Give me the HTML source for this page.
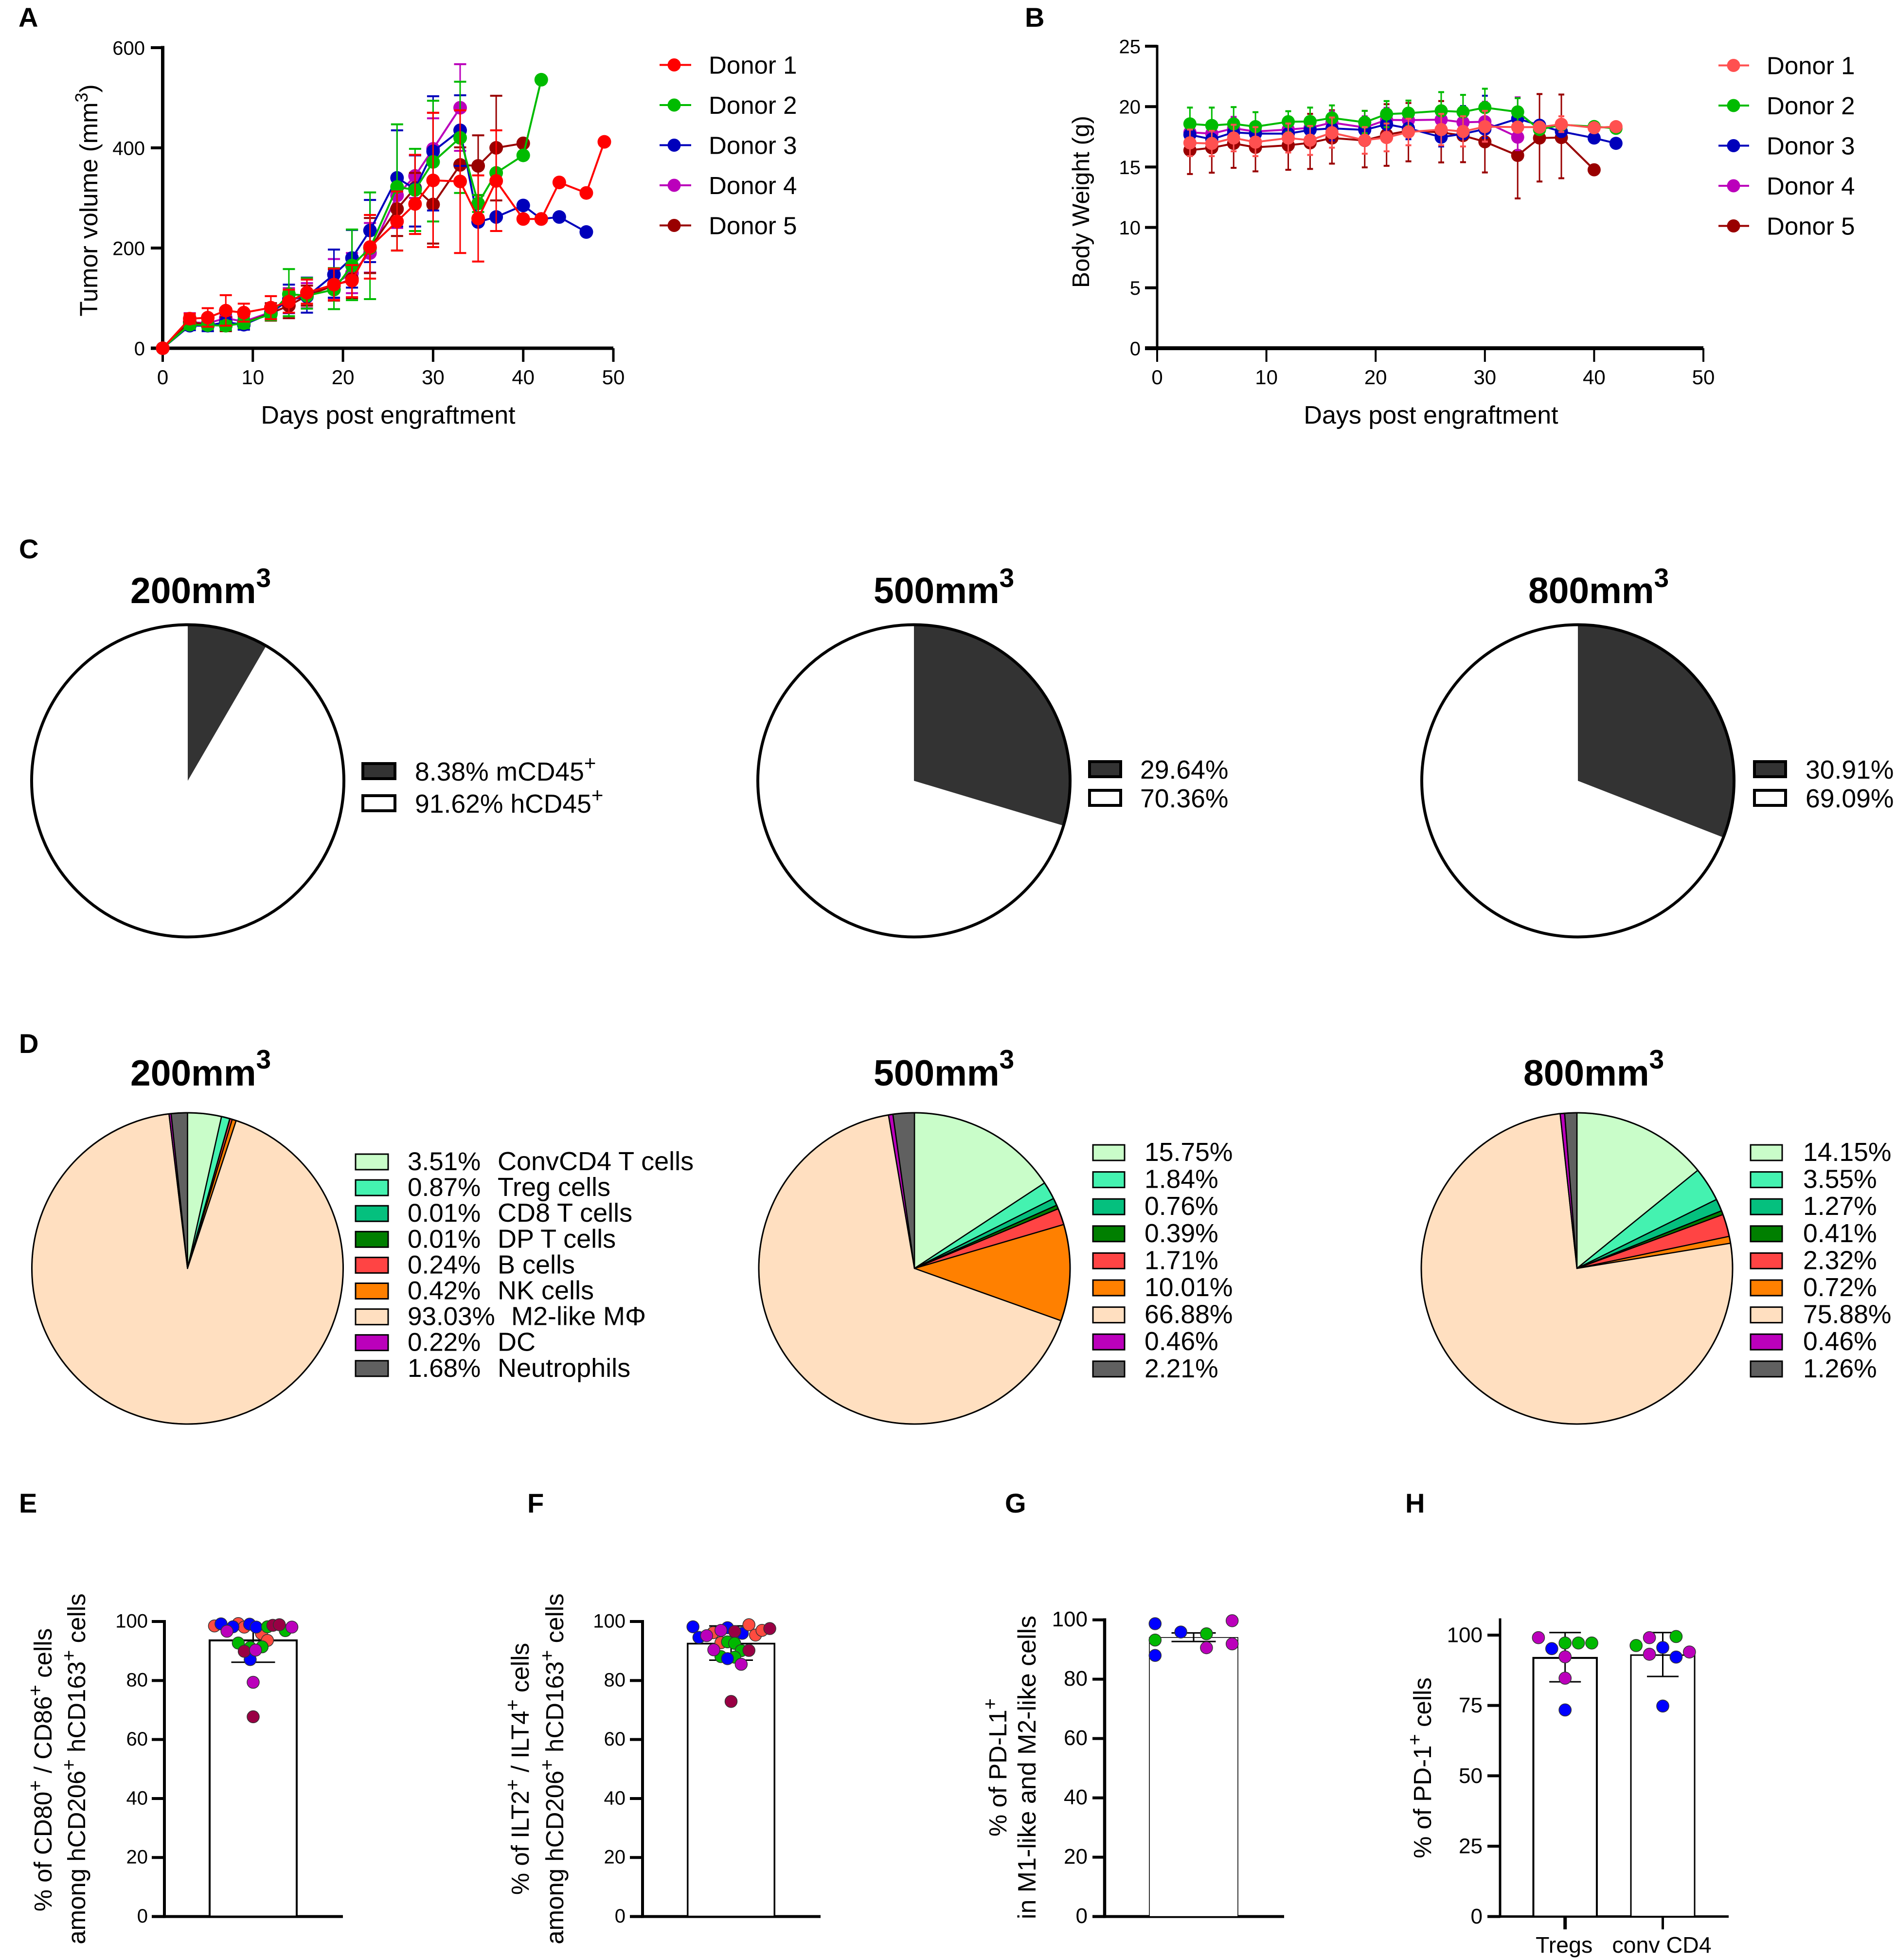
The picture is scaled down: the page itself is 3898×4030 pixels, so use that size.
<!DOCTYPE html>
<html lang="en">
<head>
<meta charset="utf-8">
<title>Tumor engraftment figure</title>
<style>
html,body{margin:0;padding:0;background:#fff}
svg{display:block;font-family:"Liberation Sans",Arial,sans-serif}
</style>
</head>
<body>
<svg id="figure" xmlns="http://www.w3.org/2000/svg" width="3898" height="4030" viewBox="0 0 3898 4030">
<rect width="3898" height="4030" fill="#fff"/>

<g font-weight="bold" font-size="56" fill="#000">
<text x="38" y="55">A</text>
<text x="2107" y="55">B</text>
<text x="39" y="1148">C</text>
<text x="39" y="2165">D</text>
<text x="39" y="3110">E</text>
<text x="1084" y="3110">F</text>
<text x="2066" y="3110">G</text>
<text x="2889" y="3110">H</text>
</g>

<g id="panel-a">
<text font-size="51" text-anchor="middle" transform="translate(200,412) rotate(-90)">Tumor volume (mm<tspan font-size="36" dy="-20">3</tspan><tspan dy="20">)</tspan></text>
<text font-size="52" text-anchor="middle" x="798" y="871">Days post engraftment</text>
</g>

<g id="panel-b">
<text font-size="49.5" text-anchor="middle" transform="translate(2239,415) rotate(-90)">Body Weight (g)</text>
<text font-size="52" text-anchor="middle" x="2942" y="871">Days post engraftment</text>
</g>

<g font-weight="bold" font-size="75" fill="#000">
<text x="268" y="1240">200mm<tspan font-size="55" dy="-33">3</tspan></text>
<text x="1796" y="1240">500mm<tspan font-size="55" dy="-33">3</tspan></text>
<text x="3142" y="1240">800mm<tspan font-size="55" dy="-33">3</tspan></text>
<text x="268" y="2232">200mm<tspan font-size="55" dy="-35">3</tspan></text>
<text x="1796" y="2232">500mm<tspan font-size="55" dy="-35">3</tspan></text>
<text x="3132" y="2232">800mm<tspan font-size="55" dy="-35">3</tspan></text>
</g>
<g id="panel-c"></g>
<g id="panel-d"></g>

<g id="panel-e">
<text font-size="51" text-anchor="middle" transform="translate(106,3639) rotate(-90)">% of CD80<tspan font-size="40" dy="-20">+</tspan><tspan dy="20"> / CD86</tspan><tspan font-size="40" dy="-20">+</tspan><tspan dy="20"> cells</tspan></text>
<text font-size="51" text-anchor="middle" transform="translate(175,3637) rotate(-90)">among hCD206<tspan font-size="40" dy="-20">+</tspan><tspan dy="20"> hCD163</tspan><tspan font-size="40" dy="-20">+</tspan><tspan dy="20"> cells</tspan></text>
</g>
<g id="panel-f">
<text font-size="51" text-anchor="middle" transform="translate(1087,3637) rotate(-90)">% of ILT2<tspan font-size="40" dy="-20">+</tspan><tspan dy="20"> / ILT4</tspan><tspan font-size="40" dy="-20">+</tspan><tspan dy="20"> cells</tspan></text>
<text font-size="51" text-anchor="middle" transform="translate(1158,3637) rotate(-90)">among hCD206<tspan font-size="40" dy="-20">+</tspan><tspan dy="20"> hCD163</tspan><tspan font-size="40" dy="-20">+</tspan><tspan dy="20"> cells</tspan></text>
</g>
<g id="panel-g">
<text font-size="51" text-anchor="middle" transform="translate(2069,3634) rotate(-90)">% of PD-L1<tspan font-size="40" dy="-20">+</tspan></text>
<text font-size="52" text-anchor="middle" transform="translate(2129,3634) rotate(-90)">in M1-like and M2-like cells</text>
</g>
<g id="panel-h">
<text font-size="51" text-anchor="middle" transform="translate(2942,3635) rotate(-90)">% of PD-1<tspan font-size="40" dy="-20">+</tspan><tspan dy="20"> cells</tspan></text>
</g>
</svg>

<script>
// ---------- Panel A data ----------
const aDays = [0,3,5,7,9,12,14,16,19,21,23,26,28,30,33,35,37,40,42,44,47,49];
const aXTicks = [0,10,20,30,40,50];
const aYTicks = [0,200,400,600];
const aD1 = [0,59,61,75,71,81,93,111,127,135,202,253,288,335,333,259,334,258,258,331,310,412];
const aD2 = [0,47,46,45,50,68,108,105,117,165,200,322,316,372,420,289,350,385,536];
const aD3 = [0,45,45,52,47,70,98,103,147,180,235,340,318,393,435,252,262,285,258,262,232];
const aD4 = [0,52,50,60,53,72,95,105,128,150,190,305,344,398,480];
const aD5 = [0,52,47,47,50,70,85,105,125,138,200,278,320,287,366,364,400,409];
const aD1Up = [null,69,80,106,89,104,117,137,159,166,266,313,386,470,475,345,435];
const aD1Lo = [null,49,43,45,53,58,71,89,96,102,139,195,228,202,190,173,234];
const aD2Up = [null,55,54,54,60,80,158,140,160,237,311,447,398,494,532,306];
const aD2Lo = [null,39,38,36,40,56,64,79,78,96,98,195,234,253,310,272];
const aD3Up = [null,55,52,68,57,85,127,141,197,236,296,435,385,503,505];
const aD3Lo = [null,36,34,36,37,58,70,71,101,121,172,243,243,275,364];
const aD4Up = [null,70,60,80,70,85,120,130,178,190,250,320,385,459,567];
const aD4Lo = [null,36,38,42,38,60,70,80,100,110,151,240,300,335,394];
const aD5Up = [null,65,62,62,64,90,115,125,157,165,260,313,350,470,401,425,504];
const aD5Lo = [null,40,34,34,38,55,60,85,95,100,150,224,290,209,331,305,295];

// ---------- Panel B data ----------
const bDays = [3,5,7,9,12,14,16,19,21,23,26,28,30,33,35,37,40,42];
const bXTicks = [0,10,20,30,40,50];
const bYTicks = [0,5,10,15,20,25];
const bD1 = [17.0,16.95,17.4,17.06,17.4,17.22,17.84,17.22,17.44,17.9,18.1,17.94,18.34,18.3,18.3,18.54,18.25,18.34];
const bD2 = [18.57,18.44,18.57,18.34,18.75,18.77,19.06,18.7,19.38,19.46,19.65,19.56,19.92,19.56,18.1,18.5,18.35,18.2];
const bD3 = [17.67,17.3,17.87,17.76,17.76,18.07,18.2,18.07,18.54,18.2,17.47,17.74,18.14,19.0,18.46,17.94,17.4,16.96];
const bD4 = [17.87,17.76,18.2,17.94,18.1,18.25,18.68,18.27,18.9,18.88,18.92,18.7,18.75,17.47];
const bD5 = [16.39,16.59,16.95,16.63,16.8,17.0,17.4,17.2,17.67,18.0,17.87,17.6,17.09,15.96,17.4,17.44,14.77];
const bD1Up = [18.1,18.0,18.5,18.3,18.6,18.4,19.1,18.3,18.6,19.0,19.4,19.2,19.65,null,null,19.2];
const bD1Lo = [15.9,15.9,16.3,15.9,16.2,16.0,16.6,16.1,16.3,16.8,16.8,16.7,17.1,null,null,17.9];
const bD2Up = [19.92,19.92,19.96,19.54,19.62,19.92,20.1,19.65,20.46,20.5,21.2,20.97,21.48,20.7];
const bD2Lo = [17.2,17.0,17.2,17.1,17.9,17.6,18.0,17.8,18.3,18.4,18.1,18.2,18.4,18.4];
const bD3Up = [18.4,18.0,18.6,18.5,18.5,18.9,19.2,18.9,19.6,19.1,19.2,20.05,20.9,19.8];
const bD3Lo = [16.9,16.6,17.1,17.0,17.0,17.2,17.2,17.2,17.5,17.3,16.7,17.4,17.4,18.2];
const bD4Up = [18.6,18.5,19.15,18.7,18.9,19.0,19.6,19.2,19.9,19.8,19.8,19.5,20.4,20.77];
const bD4Lo = [17.1,17.0,17.3,17.2,17.3,17.5,17.8,17.4,17.9,18.0,18.0,17.9,17.1,16.4];
const bD5Up = [18.3,18.6,19.1,18.7,18.9,19.4,19.7,19.65,20.2,20.3,20.46,20.0,19.7,19.5,21.04,21.0];
const bD5Lo = [14.42,14.53,14.93,14.64,14.77,14.84,15.28,14.97,15.1,15.47,15.38,15.4,14.55,12.4,13.8,14.07];

// ---------- Panel C / D data ----------
const cSlices200 = [8.38,91.62];
const cSlices500 = [29.64,70.36];
const cSlices800 = [30.91,69.09];
const cColors = ['#333333','#ffffff'];
const cSuffixes = ['mCD45','hCD45'];
const dSlices200 = [3.51,0.87,0.01,0.01,0.24,0.42,93.03,0.22,1.68];
const dSlices500 = [15.75,1.84,0.76,0.39,1.71,10.01,66.88,0.46,2.21];
const dSlices800 = [14.15,3.55,1.27,0.41,2.32,0.72,75.88,0.46,1.26];
const dColors = ['#c9fdc9','#44f2b0','#05c07e','#007f00','#ff4444','#ff8000','#ffdfc0','#bb00bb','#606060'];
const dNames = ['ConvCD4 T cells','Treg cells','CD8 T cells','DP T cells','B cells','NK cells','M2-like M\u03A6','DC','Neutrophils'];

// ---------- Panels E-H data ----------
const dotColors = ['#ff4b40','#0000ff','#00b800','#bb00bb','#990044'];
const pctTicks = [0,20,40,60,80,100];
const hTicks = [0,25,50,75,100];
const eMean = [93.6];
const eErrLo = [86.2];
const eErrHi = [99];
const eValues = [98.5,99.3,98.1,95.9,93.6,99.2,98.2,99.1,98.1,87.1,98.2,96.9,92.7,91.2,91.4,98.7,98.9,89.9,96.7,98.1,90.3,79.4,67.7];
const eDonors = [0,0,0,0,0,1,1,1,1,1,2,2,2,2,2,4,4,4,3,3,3,3,4];
const eSlots = [-6.5,-2.5,-1.5,1.4,2.4,-5.4,-3.4,-0.6,0.5,-0.5,2.4,5.4,-2.5,-0.5,1.5,3.3,4.4,-1.5,-4.4,6.5,0.4,0,0];
const fMean = [92.5];
const fErrLo = [86.9];
const fErrHi = [98.5];
const fValues = [98.2,94.6,96.2,97.9,96,98.9,95.4,97,92.8,95.2,97,96.6,97.6,93.1,92.6,90.1,88.1,87.9,87.4,90.4,90.2,85.5,72.9];
const fDonors = [1,1,0,1,1,0,0,0,0,3,3,4,4,2,2,2,2,2,1,3,4,3,4];
const fSlots = [-6.4,-5.4,-3,-0.6,1.9,3,4.1,5.2,-1.7,-4.1,-1.7,0.6,6.5,-0.6,0.6,1.7,-1.7,0.6,-0.6,-2.9,3,1.7,0];
const gMean = [94.06];
const gErrLo = [92.7];
const gErrHi = [95.6];
const gValues = [98.7,93.2,88,95.9,95.3,90.6,99.7,91.9];
const gDonors = [1,2,1,1,2,3,3,3];
const gSlots = [-3,-3,-3,-1,1,1,3,3];
const hCategories = ['Tregs','conv CD4'];
const hMean = [91.9,92.9];
const hErrLo = [83.4,85.3];
const hErrHi = [100.9,100.9];
const hValues1 = [99.1,95.2,97.2,97.2,97.2,92.3,84.7,73.4];
const hDonors1 = [3,1,2,2,2,3,3,1];
const hSlots1 = [-2,-1,0,1,2,0,0,0];
const hValues2 = [96.3,99.1,99.5,95.6,93.2,92.2,94,74.8];
const hDonors2 = [2,3,2,1,3,1,3,1];
const hSlots2 = [-2,-1,1,0,-1,1,2,0];

// ---------- helpers ----------
const NS = 'http://www.w3.org/2000/svg';
function mk(tag, attrs, parent) {
  const el = document.createElementNS(NS, tag);
  for (const k in attrs) el.setAttribute(k, attrs[k]);
  parent.appendChild(el);
  return el;
}
function scale(d0, d1, r0, r1) { return v => r0 + (v - d0) / (d1 - d0) * (r1 - r0); }
function panel(id) { return document.getElementById(id); }

function drawAxes(p, o) {
  const yAxis = mk('line', {x1:o.x0, x2:o.x0, y1:o.yTop - o.yw/2, y2:o.y0 + o.xw/2, stroke:'#000', 'stroke-width':o.yw}, p);
  
  
  const xAxis = mk('line', {x1:o.xLeft, x2:o.xRight, y1:o.y0, y2:o.y0, stroke:'#000', 'stroke-width':o.xw}, p);
  
  
  o.yTicks.forEach(t => {
    const y = o.sy(t);
    const tick = mk('line', {x1:o.xLeft, x2:o.x0, y1:y, y2:y, stroke:'#000', 'stroke-width':o.yTickW}, p);
    
    
    const lab = mk('text', {x:o.yLabelX, y:y + o.yFont * o.yShift, 'text-anchor':'end', 'font-size':o.yFont}, p);
    lab.textContent = String(t);
    
    
  });
  (o.xTicks || []).forEach(t => {
    const x = o.sx(t);
    const tick = mk('line', {x1:x, x2:x, y1:o.y0, y2:o.y0 + o.xTickLen, stroke:'#000', 'stroke-width':o.xTickW}, p);
    
    
    const lab = mk('text', {x:x, y:o.xLabelY, 'text-anchor':'middle', 'font-size':o.xFont}, p);
    lab.textContent = String(t);
    
    
  });
}

function drawSeries(p, s, days, sx, sy, capHalf, capW, barW, r) {
  const g = mk('g', {}, p);
  
  
  const pts = s.values.map((v, i) => sx(days[i]).toFixed(1) + ',' + sy(v).toFixed(1)).join(' ');
  const line = mk('polyline', {points:pts, fill:'none', stroke:s.color, 'stroke-width':4, 'stroke-linejoin':'round'}, g);
  
  
  s.values.forEach((v, i) => {
    const x = sx(days[i]);
    [s.up[i], s.lo[i]].forEach(e => {
      if (e === null || e === undefined) return;
      const stem = mk('line', {x1:x, x2:x, y1:sy(v), y2:sy(e), stroke:s.color, 'stroke-width':barW}, g);
      
      
      const cap = mk('line', {x1:x - capHalf, x2:x + capHalf, y1:sy(e), y2:sy(e), stroke:s.color, 'stroke-width':capW}, g);
      
      
    });
  });
  s.values.forEach((v, i) => {
    const c = mk('circle', {cx:sx(days[i]), cy:sy(v), r:r, fill:s.color}, g);
    
    
  });
}

function drawDonorLegend(p, series, lineX1, lineX2, markerX, textX, rowY0, rowStep, font) {
  series.forEach((s, i) => {
    const y = rowY0 + i * rowStep;
    const g = mk('g', {}, p);
    
    
    const l = mk('line', {x1:lineX1, x2:lineX2, y1:y, y2:y, stroke:s.color, 'stroke-width':4}, g);
    
    
    const c = mk('circle', {cx:markerX, cy:y, r:13.5, fill:s.color}, g);
    
    
    const t = mk('text', {x:textX, y:y + 18, 'font-size':font}, g);
    t.textContent = s.name;
    
    
  });
}

// ---------- Panels A & B ----------
const aSeries = [
  {name:'Donor 1', color:'#ff0000', values:aD1, up:aD1Up, lo:aD1Lo},
  {name:'Donor 2', color:'#00bb00', values:aD2, up:aD2Up, lo:aD2Lo},
  {name:'Donor 3', color:'#0000bb', values:aD3, up:aD3Up, lo:aD3Lo},
  {name:'Donor 4', color:'#bb00bb', values:aD4, up:aD4Up, lo:aD4Lo},
  {name:'Donor 5', color:'#990000', values:aD5, up:aD5Up, lo:aD5Lo}
];
const aSx = scale(0, 50, 334.5, 1261);
const aSy = scale(0, 600, 716, 98);
drawAxes(panel('panel-a'), {x0:334.5, xLeft:310, xRight:1261, y0:716, yTop:98, yw:7, xw:7, yTickW:6, xTickW:5, xTickLen:28,
  sx:aSx, sy:aSy, xTicks:aXTicks, yTicks:aYTicks, yLabelX:298, yFont:40, yShift:0.36, xLabelY:790, xFont:42});
[3,4,2,1,0].forEach(i => drawSeries(panel('panel-a'), aSeries[i], aDays, aSx, aSy, 12.5, 4, 3, 14));
drawDonorLegend(panel('panel-a'), aSeries, 1356, 1421, 1386, 1457, 133.5, 82.5, 51);

const bSeries = [
  {name:'Donor 1', color:'#ff5050', values:bD1, up:bD1Up, lo:bD1Lo},
  {name:'Donor 2', color:'#00bb00', values:bD2, up:bD2Up, lo:bD2Lo},
  {name:'Donor 3', color:'#0000bb', values:bD3, up:bD3Up, lo:bD3Lo},
  {name:'Donor 4', color:'#bb00bb', values:bD4, up:bD4Up, lo:bD4Lo},
  {name:'Donor 5', color:'#990000', values:bD5, up:bD5Up, lo:bD5Lo}
];
const bSx = scale(0, 50, 2379, 3502);
const bSy = scale(0, 25, 716, 95);
drawAxes(panel('panel-b'), {x0:2379, xLeft:2354, xRight:3502, y0:716, yTop:95, yw:5, xw:8, yTickW:6, xTickW:4, xTickLen:28,
  sx:bSx, sy:bSy, xTicks:bXTicks, yTicks:bYTicks, yLabelX:2345, yFont:40, yShift:0.36, xLabelY:790, xFont:42});
[4,3,2,1,0].forEach(i => drawSeries(panel('panel-b'), bSeries[i], bDays, bSx, bSy, 6, 4, 3, 13.5));
drawDonorLegend(panel('panel-b'), bSeries, 3533, 3596, 3564, 3632, 134.5, 82.5, 51);

// ---------- Pies ----------
function angle(frac) { return frac * 2 * Math.PI - Math.PI / 2; }
function drawPie(p, values, colors, cx, cy, r, sliceStroke, ringW) {
  const total = values.reduce((a, b) => a + b, 0);
  let acc = 0;
  values.forEach((v, i) => {
    const a0 = angle(acc / total);
    acc += v;
    const a1 = angle(acc / total);
    const large = (a1 - a0) > Math.PI ? 1 : 0;
    const d = 'M' + cx + ',' + cy + 'L' + (cx + r * Math.cos(a0)).toFixed(2) + ',' + (cy + r * Math.sin(a0)).toFixed(2) +
      'A' + r + ',' + r + ' 0 ' + large + ' 1 ' + (cx + r * Math.cos(a1)).toFixed(2) + ',' + (cy + r * Math.sin(a1)).toFixed(2) + 'Z';
    const s = mk('path', {d:d, fill:colors[i], stroke:sliceStroke ? '#000' : 'none', 'stroke-width':sliceStroke, 'stroke-linejoin':'round'}, p);
    
    
  });
  const ring = mk('circle', {cx:cx, cy:cy, r:r, fill:'none', stroke:'#000', 'stroke-width':ringW}, p);
  
  
}
function legendBox(p, x, y, w, h, fill, sw) {
  const b = mk('rect', {x:x, y:y, width:w, height:h, fill:fill, stroke:'#000', 'stroke-width':sw}, p);
  
  
}

const cp = panel('panel-c');
drawPie(cp, cSlices200, cColors, 386, 1605.5, 321, 0, 6);
drawPie(cp, cSlices500, cColors, 1879, 1605.5, 321, 0, 6);
drawPie(cp, cSlices800, cColors, 3244, 1605.5, 321, 0, 6);
// first pie legend carries marker names
cSlices200.forEach((v, i) => {
  const y = 1570 + i * 66;
  legendBox(cp, 746, y, 66, 31, cColors[i], 6);
  const t = mk('text', {x:853, y:y + 35, 'font-size':53.5}, cp);
  
  
  const a = mk('tspan', {}, t);
  a.textContent = v.toFixed(2) + '% ' + cSuffixes[i];
  const b = mk('tspan', {dy:-22, 'font-size':42}, t);
  b.textContent = '+';
});
[[cSlices500, 2240, 2344], [cSlices800, 3607, 3712]].forEach(spec => {
  spec[0].forEach((v, i) => {
    const y = 1566 + i * 59;
    legendBox(cp, spec[1], y, 64, 31, cColors[i], 6);
    const t = mk('text', {x:spec[2], y:y + 35, 'font-size':53.5}, cp);
    t.textContent = v.toFixed(2) + '%';
    
    
  });
});

const dp = panel('panel-d');
drawPie(dp, dSlices200, dColors, 385.5, 2608, 320, 2.5, 3);
drawPie(dp, dSlices500, dColors, 1880, 2608, 320, 2.5, 3);
drawPie(dp, dSlices800, dColors, 3242, 2608, 320, 2.5, 3);
dSlices200.forEach((v, i) => {
  const y = 2389 + i * 53.1;
  legendBox(dp, 731, y - 16, 67, 32, dColors[i], 3);
  const pct = v.toFixed(2) + '%';
  const t1 = mk('text', {x:838, y:y + 17, 'font-size':53}, dp);
  t1.textContent = pct;
  
  
  const t2 = mk('text', {x:pct.length > 5 ? 1051 : 1023, y:y + 17, 'font-size':54}, dp);
  t2.textContent = dNames[i];
  
  
});
[[dSlices500, 2247, 2353], [dSlices800, 3599, 3707]].forEach(spec => {
  spec[0].forEach((v, i) => {
    const y = 2370 + i * 55.6;
    legendBox(dp, spec[1], y - 16, 65, 32, dColors[i], 3);
    const t = mk('text', {x:spec[2], y:y + 17, 'font-size':53.5}, dp);
    t.textContent = v.toFixed(2) + '%';
    
    
  });
});

// ---------- Bar charts ----------
function drawBar(p, o, mean, lo, hi, values, donors, slots) {
  const sy = o.sy;
  const bar = mk('rect', {x:o.cx - o.w/2, y:sy(mean), width:o.w, height:o.sy(0) - sy(mean), fill:'#fff', stroke:'#000', 'stroke-width':o.barStroke}, p);
  
  
  const stem = mk('line', {x1:o.cx, x2:o.cx, y1:sy(hi), y2:sy(lo), stroke:'#000', 'stroke-width':3}, p);
  
  
  [hi, lo].forEach(e => {
    const cap = mk('line', {x1:o.cx - o.cap, x2:o.cx + o.cap, y1:sy(e), y2:sy(e), stroke:'#000', 'stroke-width':3}, p);
    
    
  });
  values.forEach((v, i) => {
    const c = mk('circle', {cx:o.cx + slots[i] * o.slot, cy:sy(v), r:o.r, fill:dotColors[donors[i]], stroke:'#333', 'stroke-width':1.5}, p);
    
    
  });
}

const eSy = scale(0, 100, 3940.6, 3334);
drawAxes(panel('panel-e'), {x0:338, xLeft:312, xRight:705, y0:3940.6, yTop:3334, yw:6, xw:6, yTickW:6,
  sy:eSy, yTicks:pctTicks, yLabelX:304, yFont:40, yShift:0.31});
drawBar(panel('panel-e'), {sy:eSy, cx:520.5, w:179, cap:45, barStroke:4, slot:12.24, r:12.5}, eMean[0], eErrLo[0], eErrHi[0], eValues, eDonors, eSlots);

const fSy = scale(0, 100, 3940.6, 3334);
drawAxes(panel('panel-f'), {x0:1321, xLeft:1295, xRight:1687, y0:3940.6, yTop:3334, yw:6, xw:6, yTickW:6,
  sy:fSy, yTicks:pctTicks, yLabelX:1286, yFont:40, yShift:0.31});
drawBar(panel('panel-f'), {sy:fSy, cx:1503, w:178.5, cap:45, barStroke:3.5, slot:12.24, r:12.5}, fMean[0], fErrLo[0], fErrHi[0], fValues, fDonors, fSlots);

const gSy = scale(0, 100, 3940.6, 3330.6);
drawAxes(panel('panel-g'), {x0:2271, xLeft:2246, xRight:2640, y0:3940.6, yTop:3330.6, yw:6.5, xw:6, yTickW:6,
  sy:gSy, yTicks:pctTicks, yLabelX:2236, yFont:44, yShift:0.3});
drawBar(panel('panel-g'), {sy:gSy, cx:2454, w:182, cap:45.5, barStroke:1.6, slot:26.4, r:12.5}, gMean[0], gErrLo[0], gErrHi[0], gValues, gDonors, gSlots);

const hSy = scale(0, 100, 3940.6, 3362);
const hCx = i => 3217.7 + i * 200.8;
const hp = panel('panel-h');
drawAxes(hp, {x0:3084, xLeft:3058, xRight:3554, y0:3940.6, yTop:3330, yw:5, xw:5, yTickW:6,
  sy:hSy, yTicks:hTicks, yLabelX:3048, yFont:44, yShift:0.33});
hCategories.forEach((name, i) => {
  const tick = mk('line', {x1:hCx(i), x2:hCx(i), y1:3940, y2:3967, stroke:'#000', 'stroke-width':i === 0 ? 7 : 5}, hp);
  
  
  const t = mk('text', {x:hCx(i) - 2, y:4015, 'text-anchor':'middle', 'font-size':46.5}, hp);
  t.textContent = name;
  
  
});
drawBar(hp, {sy:hSy, cx:hCx(0), w:130.5, cap:32.5, barStroke:4, slot:27.4, r:12.6}, hMean[0], hErrLo[0], hErrHi[0], hValues1, hDonors1, hSlots1);
drawBar(hp, {sy:hSy, cx:hCx(1), w:131, cap:32.5, barStroke:3, slot:27.4, r:12.6}, hMean[1], hErrLo[1], hErrHi[1], hValues2, hDonors2, hSlots2);
</script>
</body>
</html>
